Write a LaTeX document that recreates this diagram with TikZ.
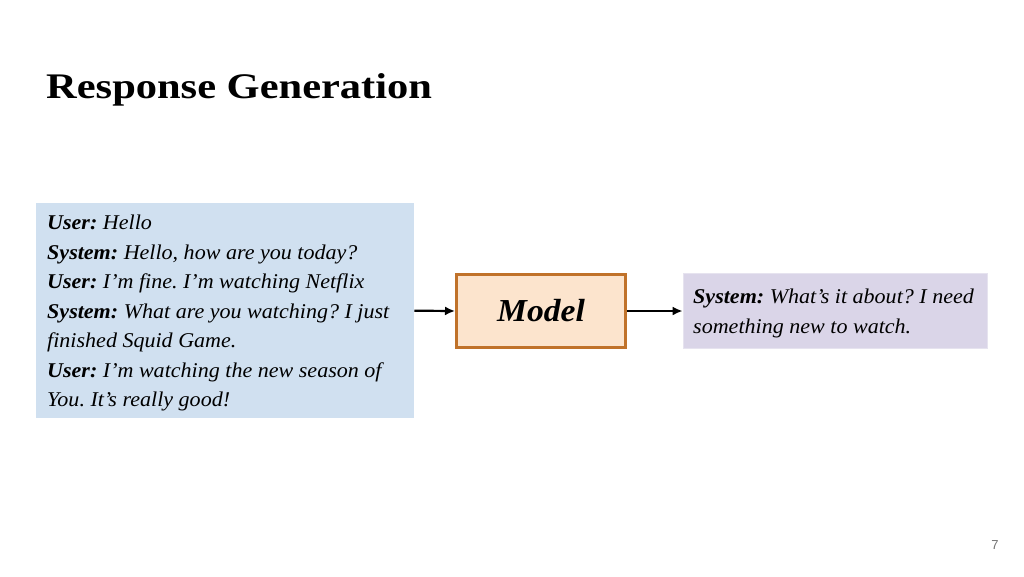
\documentclass[tikz,border=0pt]{standalone}
\usepackage{fontspec}
\setmainfont[FakeStretch=1.05]{Liberation Serif}
\newfontfamily\titlefont[FakeStretch=1.18]{Liberation Serif}
\setsansfont{Liberation Sans}
\usetikzlibrary{arrows.meta}
\definecolor{ctxblue}{HTML}{D0E0F0}
\definecolor{modelfill}{HTML}{FCE4CD}
\definecolor{modeldraw}{HTML}{C0722A}
\definecolor{outfill}{HTML}{DAD5E8}
\definecolor{outdraw}{HTML}{E6E3EF}
\frenchspacing
\begin{document}
\begin{tikzpicture}[x=1pt,y=-1pt,
  bodytext/.style={font=\fontsize{21}{29.5}\selectfont\itshape\frenchspacing, align=left, inner sep=0pt, anchor=north west},
  ctxbox/.style={fill=ctxblue, inner sep=0pt, minimum width=378pt, minimum height=215pt},
  modelbox/.style={fill=modelfill, draw=modeldraw, line width=3pt, minimum width=169pt, minimum height=73pt, font=\fontsize{32}{36}\selectfont\bfseries\itshape},
  outbox/.style={fill=outfill, draw=outdraw, line width=0.8pt, inner sep=0pt, minimum width=304pt, minimum height=75pt},
  conn/.style={-{Latex[length=10pt,width=9pt]}, line width=2.2pt}
]
\useasboundingbox (0,0) rectangle (1024,576);
\fill[white] (0,0) rectangle (1024,576);
\node[anchor=west, font=\titlefont\fontsize{36}{40}\selectfont\bfseries, inner sep=0pt] (title) at (46,90) {Response Generation};
\node[ctxbox, anchor=north west] (ctx) at (36,203) {};
\node[bodytext] (ctxtext) at (47,215) {%
\textbf{User:} Hello\\
\textbf{System:} Hello, how are you today?\\
\textbf{User:} I’m fine. I’m watching Netflix\\
\textbf{System:} What are you watching? I just\\
finished Squid Game.\\
\textbf{User:} I’m watching the new season of\\
You. It’s really good!};
\node[modelbox] (model) at (541,311) {Model};
\node[outbox] (out) at (835,311) {};
\node[bodytext] (outtext) at (693,289) {%
\textbf{System:} What’s it about? I need\\
something new to watch.};
\draw[conn] (ctx.east) -- (model.west);
\draw[conn] (model.east) -- (out.west);
\node[font=\sffamily\fontsize{13}{15}\selectfont, text=black!55, inner sep=0pt] (page) at (995,545) {7};
\end{tikzpicture}
\end{document}
